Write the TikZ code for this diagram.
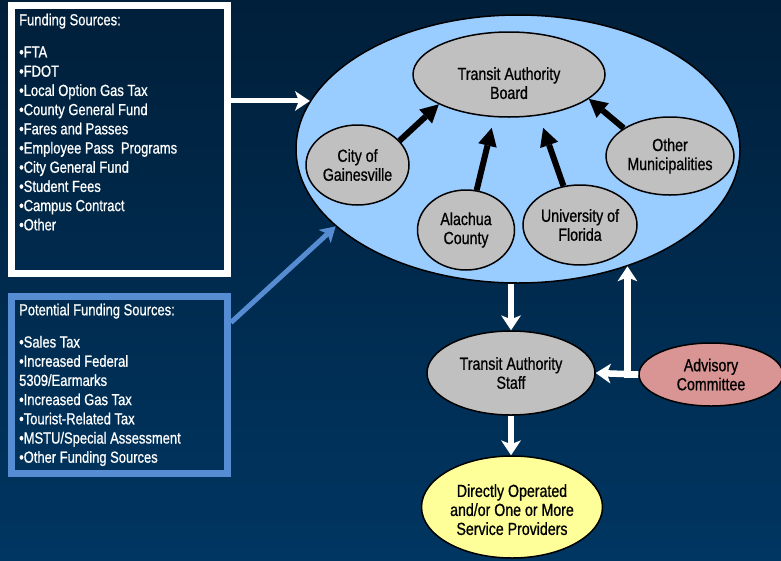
\documentclass[tikz,border=0pt]{standalone}
\usepackage{fontspec}
\setmainfont{Liberation Sans}[FakeStretch=0.81,FakeBold=0.8]
\usetikzlibrary{arrows.meta,shapes.geometric}
\begin{document}
\begin{tikzpicture}[x=1pt,y=-1pt,
    oval/.style={ellipse,draw=black,line width=1.5pt,inner sep=0pt,align=center,
      text=black,font=\fontsize{17.5}{19}\selectfont},
    srcbox/.style={rectangle,draw,line width=7pt,inner sep=0pt,
      minimum width=216.5pt},
    srctext/.style={anchor=north west,inner sep=0pt,align=left,text=white,
      font=\fontsize{16}{19.2}\selectfont},
    feed/.style={draw=black,line width=6pt,
      -{Triangle[width=19pt,length=18pt,line width=0pt]}},
    flow/.style={draw=white,line width=6.5pt,
      -{Stealth[width=20pt,length=15pt,inset=4pt,line width=0pt]}}]
  % Colour definitions
  \definecolor{bgtop}{RGB}{0,31,58}      % dark navy
  \definecolor{bgbot}{RGB}{0,54,98}      % navy
  \definecolor{region}{RGB}{153,204,255} % light blue
  \definecolor{member}{RGB}{192,192,192} % grey
  \definecolor{advise}{RGB}{217,148,148} % rose
  \definecolor{provide}{RGB}{255,255,153}% light yellow
  \definecolor{linkblue}{RGB}{85,140,210}

  % Background
  \useasboundingbox (0,0) rectangle (781,560);
  \clip (0,0) rectangle (781,560);
  \shade[top color=bgtop,bottom color=bgbot] (0,0) rectangle (781,560);

  % Funding boxes
  \node[srcbox,draw=white,minimum height=268.5pt] (funding) at (119.25,139.25) {};
  \node[srctext] (fundtext) at (19,13.5) {Funding Sources:\\[13pt]
    •FTA\\ •FDOT\\ •Local Option Gas Tax\\ •County General Fund\\
    •Fares and Passes\\ •Employee Pass\ \ Programs\\ •City General Fund\\
    •Student Fees\\ •Campus Contract\\ •Other};
  \node[srcbox,draw=linkblue,minimum height=177.5pt] (potential) at (119.25,384.75) {};
  \node[srctext] (pottext) at (19,303.5) {Potential Funding Sources:\\[13pt]
    •Sales Tax\\ •Increased Federal\\ 5309/Earmarks\\ •Increased Gas Tax\\
    •Tourist-Related Tax\\ •MSTU/Special Assessment\\ •Other Funding Sources};

  % Transit authority region and its members
  \node[oval,fill=region,minimum width=444pt,minimum height=268pt] (region) at (518,149) {};
  \node[oval,fill=member,minimum width=192pt,minimum height=85pt] (board) at (509,74.5)
    {\rule{0pt}{30pt}Transit Authority\\Board};
  \node[oval,fill=member,minimum width=103pt,minimum height=80pt] (city) at (357.5,165)
    {City of\\Gainesville};
  \node[oval,fill=member,minimum width=97pt,minimum height=80pt] (alachua) at (466,230)
    {Alachua\\County};
  \node[oval,fill=member,minimum width=114pt,minimum height=80pt] (uf) at (580,225)
    {University of\\Florida};
  \node[oval,fill=member,minimum width=128pt,minimum height=78pt] (othermun) at (670,156)
    {Other\\Municipalities};

  % Staff, committee and providers
  \node[oval,fill=member,minimum width=168pt,minimum height=84pt] (staff) at (511,373)
    {Transit Authority\\Staff};
  \node[oval,fill=advise,minimum width=144pt,minimum height=63pt] (advisory) at (711,374.5)
    {Advisory\\Committee};
  \node[oval,fill=provide,minimum width=181pt,minimum height=102pt] (providers) at (512,507)
    {\rule{0pt}{18pt}Directly Operated\\and/or One or More\\Service Providers};

  % Members feed the board
  \draw[feed] (city.30) -- (board.203);
  \draw[feed,shorten >=11pt] (alachua.75) -- (board.251);
  \draw[feed,shorten >=13pt] (uf.113) -- (board.306);
  \draw[feed] (othermun.149) -- (board.343);

  % Funding into the region
  \draw[flow,line width=5pt] (funding.east |- region.167.7) -- (region.167.7);
  \draw[flow,draw=linkblue,line width=5pt,
    -{Stealth[width=18pt,length=15pt,inset=4pt,line width=0pt]}]
    ([yshift=-30pt]potential.north east) -- (region.203.6);

  % Down the chain
  \draw[flow] (region.south -| staff.north) -- (staff.north);
  \draw[flow] (staff.south) -- (staff.south |- providers.north);
  \draw[flow] (advisory.west) -- (staff.east);
  \draw[flow] (advisory.west) -| (region.313.7);
\end{tikzpicture}
\end{document}
